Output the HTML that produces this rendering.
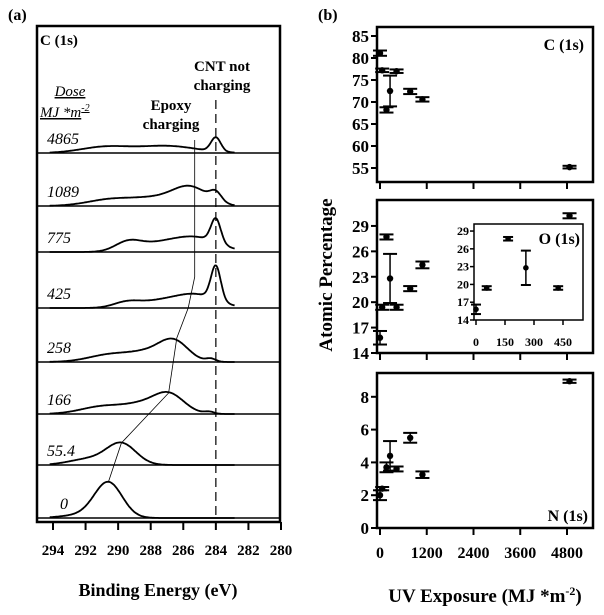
<!DOCTYPE html>
<html><head><meta charset="utf-8"><style>
html,body{margin:0;padding:0;background:#fff}
svg{display:block}
svg text{font-family:"Liberation Serif","DejaVu Serif",serif}
</style></head><body>
<svg id="fig" width="604" height="615" viewBox="0 0 604 615" xmlns="http://www.w3.org/2000/svg" font-family="Liberation Serif, DejaVu Serif, serif">
<g id="left"></g>
<g id="right"></g>
</svg>
<script>
// ---- Panel (a) data ----
const doses = ["4865","1089","775","425","258","166","55.4","0"];
const rowBase = [153,206,252,308,362,414,465,518];
// gaussian components per spectrum: [center eV, height px, sigma eV]
const comp4865 = [[284.0,14,0.3],[287.0,7,1.8],[290.8,6,1.5]];
const comp1089 = [[285.6,19,1.1],[284.0,9,0.35],[290.3,7,1.5],[287.8,6,1.2]];
const comp775  = [[284.0,24,0.3],[285.2,14,1.4],[289.4,9,0.8],[287.6,7,1.3]];
const comp425  = [[284.0,34,0.3],[285.2,13,1.3],[289.5,5,0.8],[287.6,6,1.3]];
const comp258  = [[286.6,21,0.9],[290.3,8,1.4],[284.3,3,0.3],[288.2,7,1.0]];
const comp166  = [[286.9,20,0.95],[290.8,8,1.4],[284.4,2,0.3],[288.6,7,1.0]];
const comp55   = [[289.8,21,0.9],[291.8,6,1.2]];
const comp0    = [[290.6,35,0.85],[292.2,3,1.2]];
const spectra = [comp4865,comp1089,comp775,comp425,comp258,comp166,comp55,comp0];
const eTicks = [294,292,290,288,286,284,282,280];
const epoxyLine = [[285.3,140],[285.3,277],[285.7,308],[286.4,338],[286.9,393],[289.8,443],[290.6,482]];

// ---- Panel (b) data ----
const uvDose = [0,55.4,166,258,425,775,1089,4865];
const cVal = [81.1,77.2,68.2,72.5,77.0,72.4,70.6,55.2];
const cErr = [0.6,0.4,0.6,3.5,0.4,0.6,0.5,0.3];
const oVal = [15.8,19.4,27.7,22.8,19.4,21.6,24.4,30.2];
const oErr = [0.8,0.3,0.3,2.9,0.3,0.3,0.4,0.3];
const nVal = [2.0,2.4,3.7,4.4,3.6,5.5,3.25,8.95];
const nErr = [0.3,0.1,0.3,0.9,0.15,0.3,0.2,0.1];
const xTicksB = [0,1200,2400,3600,4800];
const cTicks = [85,80,75,70,65,60,55];
const oTicks = [29,26,23,20,17,14];
const nTicks = [0,2,4,6,8];
const insetTicksX = [0,150,300,450];
const insetCount = 5;

const NS="http://www.w3.org/2000/svg";
function mk(parent,tag,attrs,text){const e=document.createElementNS(NS,tag);for(const k in attrs)e.setAttribute(k,attrs[k]);if(tag==='text')e.setAttribute('font-family','Liberation Serif, DejaVu Serif, serif');if(text!==undefined)e.textContent=text;parent.appendChild(e);return e;}

// ===== Panel (a) =====
const L=document.getElementById('left');
const xE = e => 53 + (294-e)*(228/14);
let t;
t=mk(L,'text',{x:8,y:20,'font-size':16,'font-weight':'bold'},'(a)');


let fr=mk(L,'rect',{x:37,y:26,width:243,height:496,fill:'none',stroke:'#000','stroke-width':2.5});


t=mk(L,'text',{x:40,y:45,'font-size':15,'font-weight':'bold'},'C (1s)');


t=mk(L,'text',{x:222,y:71,'font-size':15,'font-weight':'bold','text-anchor':'middle'},'CNT not');


t=mk(L,'text',{x:222,y:90,'font-size':15,'font-weight':'bold','text-anchor':'middle'},'charging');


t=mk(L,'text',{x:171,y:110,'font-size':15,'font-weight':'bold','text-anchor':'middle'},'Epoxy');


t=mk(L,'text',{x:171,y:129,'font-size':15,'font-weight':'bold','text-anchor':'middle'},'charging');


t=mk(L,'text',{x:70,y:96,'font-size':15,'font-style':'italic','text-anchor':'middle','text-decoration':'underline'},'Dose');


t=mk(L,'text',{x:40,y:117,'font-size':15,'font-style':'italic','text-decoration':'underline'});
t.innerHTML='MJ *m<tspan dy="-6" font-size="10">-2</tspan>';



spectra.forEach((comps,i)=>{
  const b=rowBase[i];
  const sep=mk(L,'line',{x1:37,x2:280,y1:b,y2:b,stroke:'#000','stroke-width':1.5});
  
  
  let d='';
  for(let e=294.2;e>=282.8;e-=0.05){
    let h=0;comps.forEach(c=>{h+=c[1]*Math.exp(-((e-c[0])**2)/(2*c[2]*c[2]));});
    d+=(d?'L':'M')+xE(e).toFixed(1)+' '+(b-h).toFixed(1);
  }
  const p=mk(L,'path',{d:d,fill:'none',stroke:'#000','stroke-width':1.8});
  
  
  const lb=mk(L,'text',{x:i===7?60:47,y:b-9,'font-size':16,'font-style':'italic'},doses[i]);
  
  
});
const dl=mk(L,'line',{x1:xE(284),x2:xE(284),y1:100,y2:518,stroke:'#000','stroke-width':1.2,'stroke-dasharray':'9,5'});


const el=mk(L,'polyline',{points:epoxyLine.map(p=>xE(p[0]).toFixed(1)+','+p[1]).join(' '),fill:'none',stroke:'#000','stroke-width':0.8});


eTicks.forEach(e=>{
  const tk=mk(L,'line',{x1:xE(e),x2:xE(e),y1:522,y2:530,stroke:'#000','stroke-width':2});
  
  
  const tl=mk(L,'text',{x:xE(e),y:555,'font-size':15,'font-weight':'bold','text-anchor':'middle'},String(e));
  
  
});
t=mk(L,'text',{x:158,y:596,'font-size':18,'font-weight':'bold','text-anchor':'middle'},'Binding Energy (eV)');



// ===== Panel (b) =====
const R=document.getElementById('right');
const xB = v => 380 + v*(187/4800);
const yC = v => 168 - (v-55)*4.4;
const yO = v => 353 - (v-14)*8.47;
const yN = v => 528 - v*16.4;
t=mk(R,'text',{x:318,y:20,'font-size':16,'font-weight':'bold'},'(b)');



function panel(name,y0,y1,ticks,yf,vals,errs){
  const f=mk(R,'rect',{x:377,y:y0,width:216,height:y1-y0,fill:'none',stroke:'#000','stroke-width':2.5});
  
  
  ticks.forEach(v=>{
    const tk=mk(R,'line',{x1:371,x2:377,y1:yf(v),y2:yf(v),stroke:'#000','stroke-width':2});
    
    
    const tl=mk(R,'text',{x:369,y:yf(v)+6,'font-size':17,'font-weight':'bold','text-anchor':'end'},String(v));
    
    
  });
  xTicksB.forEach(v=>{
    const tk=mk(R,'line',{x1:xB(v),x2:xB(v),y1:y1,y2:y1+7,stroke:'#000','stroke-width':2});
    
    
  });
  vals.forEach((v,i)=>drawPt(name,xB(uvDose[i]),yf,v,errs[i],7,3.2));
}
function drawPt(name,x,yf,v,e,cw,r){
  const g=mk(R,'g',{});
  
  
  const yt=yf(v+e),yb=yf(v-e);
  mk(g,'line',{x1:x,x2:x,y1:yt,y2:yb,stroke:'#000','stroke-width':1.5});
  mk(g,'line',{x1:x-cw,x2:x+cw,y1:yt,y2:yt,stroke:'#000','stroke-width':2});
  mk(g,'line',{x1:x-cw,x2:x+cw,y1:yb,y2:yb,stroke:'#000','stroke-width':2});
  mk(g,'circle',{cx:x,cy:yf(v),r:r,fill:'#000'});
}
panel('carbon',27,182,cTicks,yC,cVal,cErr);
panel('oxygen',200,353,oTicks,yO,oVal,oErr);
panel('nitrogen',373,528,nTicks,yN,nVal,nErr);

// inset
const xI = v => 476 + v*(87/450);
const yI = v => 320 - (v-14)*5.93;
const ib=mk(R,'rect',{x:474,y:224,width:109,height:96,fill:'#fff',stroke:'#000','stroke-width':1.5});


oTicks.forEach(v=>{
  const tk=mk(R,'line',{x1:470,x2:474,y1:yI(v),y2:yI(v),stroke:'#000','stroke-width':1.5});
  
  
  const tl=mk(R,'text',{x:469,y:yI(v)+4,'font-size':12,'font-weight':'bold','text-anchor':'end'},String(v));
  
  
});
insetTicksX.forEach(v=>{
  const tk=mk(R,'line',{x1:xI(v),x2:xI(v),y1:320,y2:325,stroke:'#000','stroke-width':1.5});
  
  
  const tl=mk(R,'text',{x:xI(v),y:346,'font-size':12,'font-weight':'bold','text-anchor':'middle'},String(v));
  
  
});
for(let i=0;i<insetCount;i++) drawPt('inset',xI(uvDose[i]),yI,oVal[i],oErr[i],5,2.8);
t=mk(R,'text',{x:580,y:244,'font-size':16,'font-weight':'bold','text-anchor':'end'},'O (1s)');


t=mk(R,'text',{x:584,y:50,'font-size':16,'font-weight':'bold','text-anchor':'end'},'C (1s)');


t=mk(R,'text',{x:588,y:521,'font-size':16,'font-weight':'bold','text-anchor':'end'},'N (1s)');


xTicksB.forEach(v=>{
  const tl=mk(R,'text',{x:xB(v),y:558,'font-size':16,'font-weight':'bold','text-anchor':'middle'},String(v));
  
  
});
t=mk(R,'text',{x:0,y:0,'font-size':19,'font-weight':'bold','text-anchor':'middle',transform:'translate(332,275) rotate(-90)'},'Atomic Percentage');


t=mk(R,'text',{x:485,y:602,'font-size':19,'font-weight':'bold','text-anchor':'middle'});
t.innerHTML='UV Exposure (MJ *m<tspan dy="-7" font-size="12">-2</tspan><tspan dy="7">)</tspan>';


</script>
</body></html>
